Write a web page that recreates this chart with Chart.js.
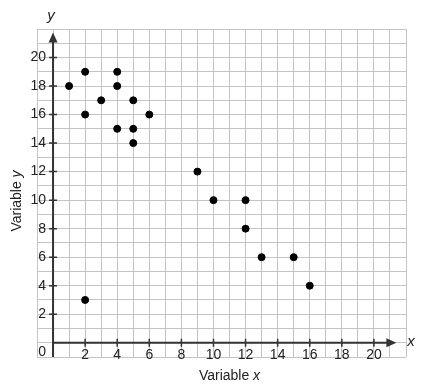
<!DOCTYPE html>
<html>
<head>
<meta charset="utf-8">
<script src="https://cdn.jsdelivr.net/npm/chart.js@4/dist/chart.umd.min.js"></script>
<style>
  html, body { margin: 0; padding: 0; background: #fff; }
  #wrap { width: 425px; height: 388px; }
</style>
</head>
<body>
<div id="wrap"><canvas id="chart"></canvas></div>
<script>
const xValues = [1, 2, 2, 3, 4, 4, 4, 5, 5, 5, 6, 2, 9, 10, 12, 12, 13, 15, 16];
const yValues = [18, 19, 16, 17, 19, 18, 15, 17, 15, 14, 16, 3, 12, 10, 10, 8, 6, 6, 4];
const xTickLabels = [2, 4, 6, 8, 10, 12, 14, 16, 18, 20];
const yTickLabels = [2, 4, 6, 8, 10, 12, 14, 16, 18, 20];
// title text, last word in italics
const xTitle = ["Variable ", "x"];
const yTitle = ["Variable ", "y"];

const axisColor = "#333";
const font = "14px 'Liberation Sans', Arial, sans-serif";
const italicFont = "italic 14px 'Liberation Sans', Arial, sans-serif";
const bigItalic = "italic 15px 'Liberation Sans', Arial, sans-serif";

function drawTitle(ctx, parts, cx, cy) {
  ctx.font = font;
  const w1 = ctx.measureText(parts[0]).width;
  ctx.font = italicFont;
  const w2 = ctx.measureText(parts[1]).width;
  const start = cx - (w1 + w2) / 2;
  ctx.textAlign = "left";
  ctx.font = font;
  ctx.fillText(parts[0], start, cy);
  ctx.font = italicFont;
  ctx.fillText(parts[1], start + w1, cy);
}

// axes with arrows, tick marks and labels drawn over the grid
const axesPlugin = {
  id: "axes",
  beforeDatasetsDraw(chart) {
    const ctx = chart.ctx;
    const xs = chart.scales.x, ys = chart.scales.y;
    const x0 = xs.getPixelForValue(0), y0 = ys.getPixelForValue(0);
    const xEnd = xs.getPixelForValue(21.4), yEnd = ys.getPixelForValue(21.75);
    ctx.save();
    ctx.strokeStyle = axisColor;
    ctx.fillStyle = axisColor;
    ctx.lineWidth = 2;
    ctx.beginPath();
    ctx.moveTo(x0, y0);
    ctx.lineTo(xEnd - 6, y0);
    ctx.moveTo(x0, chart.chartArea.bottom);
    ctx.lineTo(x0, yEnd + 6);
    ctx.stroke();
    // arrowheads
    ctx.beginPath();
    ctx.moveTo(xEnd, y0);
    ctx.lineTo(xEnd - 10, y0 - 4.5);
    ctx.lineTo(xEnd - 10, y0 + 4.5);
    ctx.closePath();
    ctx.fill();
    ctx.beginPath();
    ctx.moveTo(x0, yEnd);
    ctx.lineTo(x0 - 4.5, yEnd + 10);
    ctx.lineTo(x0 + 4.5, yEnd + 10);
    ctx.closePath();
    ctx.fill();
    // tick marks
    ctx.lineWidth = 1.5;
    ctx.beginPath();
    xTickLabels.forEach(v => {
      const p = xs.getPixelForValue(v);
      ctx.moveTo(p, y0 - 4);
      ctx.lineTo(p, y0 + 4);
    });
    yTickLabels.forEach(v => {
      const p = ys.getPixelForValue(v);
      ctx.moveTo(x0 - 4, p);
      ctx.lineTo(x0 + 4, p);
    });
    ctx.stroke();

    // tick labels
    ctx.fillStyle = "#222";
    ctx.font = font;
    ctx.textAlign = "center";
    ctx.textBaseline = "middle";
    xTickLabels.forEach(v => {
      ctx.fillText(String(v), xs.getPixelForValue(v), y0 + 12);
    });
    ctx.fillText("0", x0 - 11, y0 + 9);
    ctx.textAlign = "right";
    yTickLabels.forEach(v => {
      ctx.fillText(String(v), x0 - 7, ys.getPixelForValue(v));
    });

    // titles
    drawTitle(ctx, xTitle, (chart.chartArea.left + chart.chartArea.right) / 2 + 8, chart.chartArea.bottom + 19);
    ctx.save();
    ctx.translate(17, (chart.chartArea.top + chart.chartArea.bottom) / 2 + 8);
    ctx.rotate(-Math.PI / 2);
    drawTitle(ctx, yTitle, 0, 0);
    ctx.restore();

    ctx.font = bigItalic;
    ctx.textAlign = "center";
    ctx.fillText("x", chart.chartArea.right + 5, y0 - 1);
    ctx.fillText("y", x0 - 2, chart.chartArea.top - 13);
    ctx.restore();
  }
};

const points = xValues.map((x, i) => ({ x: x, y: yValues[i] }));

new Chart(document.getElementById("chart"), {
  type: "scatter",
  data: {
    datasets: [{
      data: points,
      backgroundColor: "#000",
      borderColor: "#000",
      pointRadius: 3.5,
      pointHoverRadius: 3.5,
    }],
  },
  options: {
    responsive: true,
    maintainAspectRatio: false,
    animation: false,
    events: [],
    layout: { padding: { left: 37, right: 19, top: 29, bottom: 31 } },
    plugins: { legend: { display: false }, tooltip: { enabled: false } },
    scales: {
      x: {
        type: "linear",
        min: -1,
        max: 22,
        ticks: { display: false, stepSize: 1 },
        grid: { color: "#c4c4c4", lineWidth: 1, drawTicks: false },
        border: { display: false },
      },
      y: {
        type: "linear",
        min: -1,
        max: 22,
        ticks: { display: false, stepSize: 1 },
        grid: { color: "#c4c4c4", lineWidth: 1, drawTicks: false },
        border: { display: false },
      },
    },
  },
  plugins: [axesPlugin],
});
</script>
</body>
</html>
